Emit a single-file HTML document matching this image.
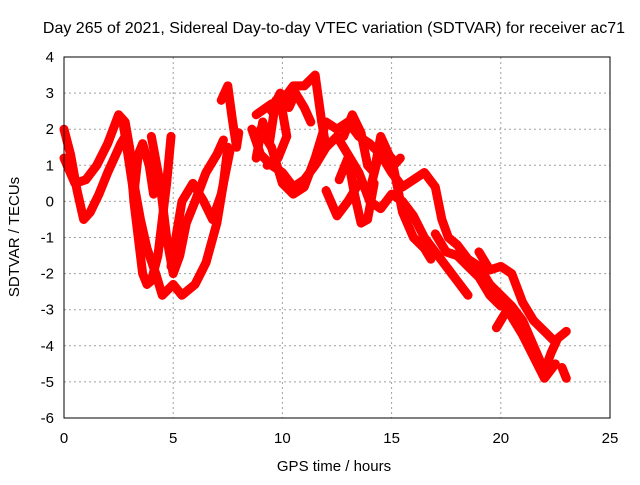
<!DOCTYPE html>
<html><head><meta charset="utf-8"><style>
body{margin:0;background:#fff}
svg text{font-family:"Liberation Sans",sans-serif;font-size:15px;fill:#000}
</style></head><body>
<svg id="c" width="640" height="480">
<text x="334" y="33" text-anchor="middle" style="font-size:16px">Day 265 of 2021, Sidereal Day-to-day VTEC variation (SDTVAR) for receiver ac71</text>
<text x="334" y="471" text-anchor="middle">GPS time / hours</text>
<text transform="translate(19,237) rotate(-90)" text-anchor="middle">SDTVAR / TECUs</text>
<g id="grid"></g><g id="marks"></g>
<rect x="64" y="57" width="546" height="361" fill="none" stroke="#000" stroke-width="1"/>
</svg>
<script>
const xTicks=[0,5,10,15,20,25];
const yTicks=[4,3,2,1,0,-1,-2,-3,-4,-5,-6];
const trackA=[[0,2],[0.3,1.3],[0.6,0.3],[0.9,-0.5],[1.2,-0.3],[1.6,0.2],[2,0.8],[2.3,1.2],[2.6,1.6],[2.8,1.8],[3,1.5],[3.2,0.5],[3.5,-0.5],[3.8,-1.3],[4.2,-2],[4.5,-2.6],[5,-2.3],[5.4,-2.6],[6,-2.3],[6.5,-1.7],[7,-0.6],[7.3,0.5],[7.5,1.5]];
const trackB=[[0,1.2],[0.5,0.5],[1,0.6],[1.5,1],[2,1.6],[2.5,2.4],[2.8,2.2],[3,1.5],[3.2,0],[3.4,-1],[3.6,-2],[3.8,-2.3],[4,-2.2],[4.3,-1.5],[4.5,-0.5],[4.7,0.5],[4.9,1.8]];
const trackC=[[4,1.8],[4.4,0.5],[4.7,-1],[5,-2],[5.3,-1.5],[5.6,-0.6],[6,0],[6.5,0.8],[7,1.3],[7.3,1.7]];
const trackD=[[4.9,-1.8],[5.4,0],[5.9,0.5],[6.4,0],[6.8,-0.5],[7.2,0.2],[7.6,1.4]];
const trackE=[[8.6,2],[9,1.3],[9.5,1],[10,0.8],[10.5,0.4],[11,0.6],[11.5,1],[12,1.5],[12.5,1.8],[13,1.3],[13.5,0.8],[14,0],[14.5,-0.2],[15,0.2],[15.5,0],[16,-0.4],[16.5,-1],[17,-1.4],[17.5,-1.8],[18,-2.2],[18.5,-2.6]];
const trackF=[[8.8,2.4],[9.5,2.7],[10,2.8],[10.5,3.2],[11,3.2],[11.5,3.5],[11.8,2.2],[12,1.5]];
const trackG=[[9,2],[9.5,1.5],[10,0.5],[10.5,0.2],[11,0.4],[11.5,1.2],[12,2.2],[12.5,2],[13,2.2],[13.5,1.8],[14,1.6],[14.5,1.3],[15,0.8],[15.5,0.4],[16,0.6],[16.5,0.8],[17,0.4],[17.3,-0.5],[17.6,-1],[18,-1.2],[18.5,-1.6],[19,-1.8],[19.5,-2.3],[20,-2.6],[20.5,-2.9],[21,-3.3],[21.5,-4],[22,-4.7],[22.3,-4.2],[22.6,-3.8],[23,-3.6]];
const trackH=[[19,-1.4],[19.5,-1.9],[20,-1.8],[20.5,-2],[21,-2.8],[21.5,-3.3],[22,-3.6],[22.5,-3.9]];
const trackI=[[12,0.3],[12.5,-0.4],[13,0],[13.5,0.5],[14,0.3],[14.5,1.5],[15,1.2],[15.5,-0.3],[16,-1],[16.5,-1.3],[16.8,-1.6]];
const trackJ=[[19.8,-3.5],[20.3,-3],[21,-3.7],[21.5,-4.3],[22,-4.9],[22.5,-4.5]];
const trackK=[[22.8,-4.6],[23,-4.9]];
const trackL=[[8.8,1.2],[9.1,2.2],[9.4,1.6],[9.7,2.8],[10,2.5],[10.2,1.8],[9.8,1.2],[9.3,1.0]];
const trackM=[[9.5,2.5],[9.9,3.0],[10.3,2.6],[10.6,3.0],[11,2.6],[11.3,2.2]];
const trackN=[[7.2,2.8],[7.5,3.2],[7.7,2.3],[7.9,1.5],[8,1.9]];
const trackO=[[12.8,1.8],[13.2,2.4],[13.6,1.9],[13.9,1.0],[14.2,0.8],[14.5,1.8],[14.8,1.4],[15.1,1.0],[15.4,1.2]];
const trackP=[[12.6,0.6],[13,1.2],[13.3,0.2],[13.6,-0.6],[13.9,-0.5],[14.2,0.5]];
const trackQ=[[2.7,2.2],[3.0,1.0],[3.2,0.2],[3.4,1.3],[3.6,1.6],[3.9,1.0],[4.1,0.2]];
const trackR=[[17,-0.9],[17.5,-1.4],[18,-1.5],[18.5,-1.8],[19,-2.1],[19.5,-2.6],[20,-2.9]];
const tracks=[trackA,trackB,trackC,trackD,trackE,trackF,trackG,trackH,trackI,trackJ,trackK,trackL,trackM,trackN,trackO,trackP,trackQ,trackR];
const X=t=>64+t*546/25, Y=v=>57+(4-v)*361/10;
const NS='http://www.w3.org/2000/svg';
const grid=document.getElementById('grid'),marks=document.getElementById('marks');
function mk(tag,attrs,parent){const e=document.createElementNS(NS,tag);for(const k in attrs)e.setAttribute(k,attrs[k]);parent.appendChild(e);return e;}
xTicks.forEach(t=>{
 if(t>0&&t<25){const g=mk('line',{x1:X(t),x2:X(t),y1:57,y2:418,stroke:'#a0a0a0','stroke-dasharray':'2,3'},grid);
 
 }
 const l=mk('text',{x:X(t),y:443,'text-anchor':'middle'},grid);l.textContent=t;
 
 
});
yTicks.forEach(v=>{
 if(v<4&&v>-6){const g=mk('line',{x1:64,x2:610,y1:Y(v),y2:Y(v),stroke:'#a0a0a0','stroke-dasharray':'2,3'},grid);
 
 }
 const l=mk('text',{x:54,y:Y(v)+5,'text-anchor':'end'},grid);l.textContent=v;
 
 
});
tracks.forEach(tr=>{
 const p=mk('polyline',{points:tr.map(d=>X(d[0])+','+Y(d[1])).join(' '),fill:'none',stroke:'#ff0000','stroke-width':9,'stroke-linejoin':'round','stroke-linecap':'round'},marks);
 
 
});
</script>
</body></html>
